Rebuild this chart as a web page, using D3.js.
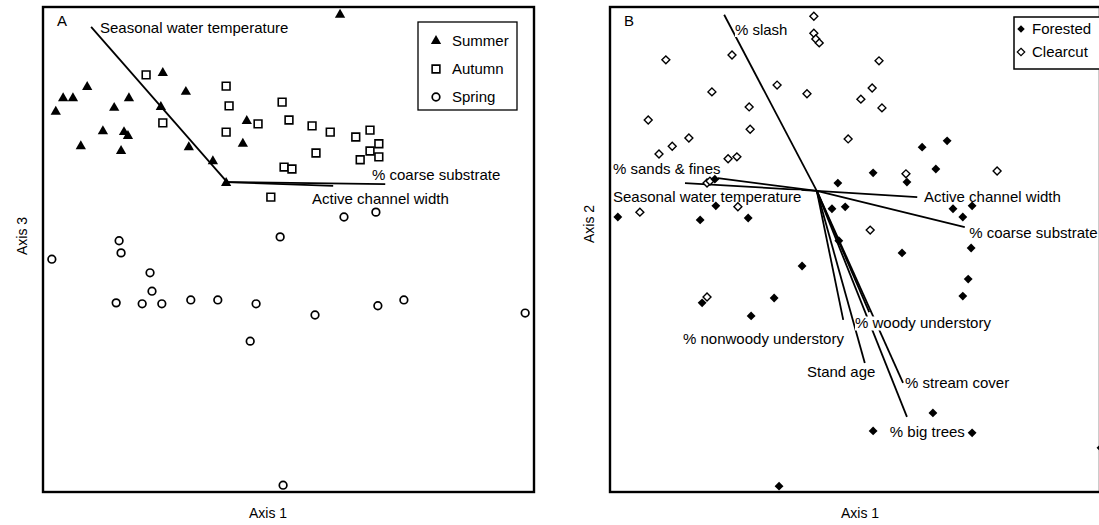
<!DOCTYPE html>
<html>
  <head>
    <meta charset="utf-8">
    <title>Ordination biplots</title>
    <style>
      body { margin: 0; background: #fff; }
      text { font-family: "Liberation Sans", Arial, sans-serif; fill: #000; }
    </style>
  </head>
  <body>
    <div id="vis"></div>
    <script src="https://d3js.org/d3.v7.min.js"></script>
    <script>
    // Panel A: season scores (percent of axis range, x = Axis 1, y = Axis 3)
    let summerA = [[2.6,78.4],[4.1,81.2],[6.1,81.2],[9.0,83.5],[12.2,74.4],[14.5,79.2],[16.5,74.2],[17.3,73.4],
      [7.7,71.3],[15.9,70.3],[17.5,81.2],[24.4,86.4],[24.0,79.4],[29.1,82.5],[29.7,71.1],[34.6,68.2],
      [37.3,63.7],[41.5,76.5],[40.7,71.8],[60.5,98.4]];
    let autumnA = [[21.0,86.0],[24.4,76.1],[37.3,83.7],[37.9,79.6],[37.3,74.2],[43.8,75.9],[48.7,80.4],[50.1,76.7],
      [54.8,75.5],[58.5,74.2],[63.7,73.2],[66.6,74.6],[68.4,71.8],[66.6,70.3],[68.4,69.1],[64.6,68.5],
      [55.6,69.9],[49.1,67.0],[50.7,66.6],[46.4,60.8]];
    let springA = [[1.8,48.0],[15.5,51.8],[15.9,49.3],[21.8,45.2],[22.2,41.4],[14.9,39.0],[20.2,38.8],[24.2,38.8],
      [30.1,39.6],[35.6,39.6],[43.4,38.8],[42.2,31.1],[55.4,36.5],[68.2,38.4],[73.5,39.6],[98.2,36.9],
      [48.9,1.4],[61.3,56.7],[67.8,57.7],[48.3,52.6]];
    let originA = [37.5, 63.9];
    let vectorNamesA = ["Seasonal water temperature", "% coarse substrate", "Active channel width"];
    let vectorEndsA = [[9.8,95.9],[69.7,63.5],[59.1,63.1]];
    let vectorLabelsA = [[11.6,95.7],[67.0,65.4],[54.8,60.4]];
    let seasons = ["Summer", "Autumn", "Spring"];

    // Panel B: stand scores (x = Axis 1, y = Axis 2)
    let forestedB = [[21.4,64.5],[1.6,56.7],[21.6,59.0],[18.4,56.1],[28.2,56.5],[63.7,71.1],[68.8,72.4],[53.7,65.8],
      [66.5,66.6],[60.6,63.9],[46.5,63.7],[45.3,58.4],[48.0,58.8],[70.0,58.4],[72.0,56.7],[73.9,59.0],
      [73.7,50.3],[59.6,49.3],[46.7,51.8],[39.2,46.6],[33.5,40.0],[73.1,43.9],[72.0,40.4],[18.8,39.0],
      [28.8,36.3],[34.5,1.2],[65.9,16.3],[53.7,12.6],[73.9,12.2],[100.2,9.1]];
    let clearcutB = [[41.6,98.1],[41.6,94.6],[42.0,93.4],[42.7,92.6],[11.4,89.1],[24.9,90.1],[20.8,82.5],[34.1,83.9],
      [40.2,82.1],[28.4,79.4],[7.8,76.7],[28.6,74.8],[16.1,73.0],[12.7,71.3],[10.0,69.7],[24.1,68.7],
      [25.9,69.1],[19.8,63.7],[20.4,64.1],[6.1,57.7],[26.1,58.8],[54.9,88.9],[53.5,83.3],[51.2,81.0],
      [55.5,79.2],[48.6,72.8],[60.4,65.6],[79.0,66.2],[53.1,54.0],[19.8,40.2]];
    let originB = [42.2, 62.1];
    let vectorNamesB = ["% slash", "% sands & fines", "Seasonal water temperature", "Active channel width",
      "% coarse substrate", "% nonwoody understory", "% woody understory", "Stand age", "% stream cover", "% big trees"];
    let vectorEndsB = [[23.3,98.4],[22.0,64.7],[15.3,63.7],[62.7,60.8],[72.4,54.6],[47.6,35.5],[52.9,37.1],
      [52.0,26.6],[59.8,22.5],[60.6,15.5]];
    let vectorLabelsB = [[25.5,95.3],[0.6,66.6],[0.6,60.8],[64.1,60.8],[73.3,53.4],[14.9,31.5],[50.0,34.8],
      [40.2,24.7],[60.2,22.5],[57.1,12.4]];
    let sites = ["Forested", "Clearcut"];

    let w = 1099, h = 525;
    let svg = d3.select("#vis").append("svg")
                .attr("width", w)
                .attr("height", h);

    function panel(x0, x1, y0, y1, letter, ytitle, ytitleY, xtitleX) {
      let x = d3.scaleLinear().domain([0, 100]).range([x0, x1]);
      let y = d3.scaleLinear().domain([0, 100]).range([y1, y0]);
      let g = svg.append("g");
      g.append("rect").attr("x", x0).attr("y", y0)
        .attr("width", x1 - x0).attr("height", y1 - y0)
        .style("fill", "none").style("stroke", "#000").style("stroke-width", 2.4);
      g.append("text").attr("x", x0 + 14).attr("y", y0 + 19)
        .style("font-size", "15px").text(letter);
      g.append("text").attr("x", xtitleX).attr("y", 518)
        .attr("text-anchor", "middle").style("font-size", "14px").text("Axis 1");
      g.append("text").attr("transform", "translate(" + (x0 - 16) + "," + ytitleY + ") rotate(-90)")
        .attr("text-anchor", "middle").style("font-size", "14px").text(ytitle);
      return {g: g, x: x, y: y};
    }

    function vectors(p, origin, names, ends, labels, boxed) {
      p.g.selectAll(null).data(ends).enter().append("line")
        .attr("x1", p.x(origin[0])).attr("y1", p.y(origin[1]))
        .attr("x2", d => p.x(d[0])).attr("y2", d => p.y(d[1]))
        .style("stroke", "#000").style("stroke-width", 1.8);
      names.forEach(function(n, i) {
        let t = p.g.append("text").attr("x", p.x(labels[i][0])).attr("y", p.y(labels[i][1]))
          .attr("dy", "0.35em").style("font-size", "15px").text(n);
        if (boxed) {
          let b = t.node().getBBox();
          p.g.insert("rect", function() { return t.node(); })
            .attr("x", b.x).attr("y", b.y + 2).attr("width", b.width).attr("height", b.height - 3)
            .style("fill", "#fff");
        }
      });
    }

    // ---- Panel A ----
    let A = panel(43, 534, 7, 492, "A", "Axis 3", 236, 268);
    vectors(A, originA, vectorNamesA, vectorEndsA, vectorLabelsA, false);

    let tri = d3.symbol().type(d3.symbolTriangle).size(46);
    let sq = d3.symbol().type(d3.symbolSquare).size(60);
    A.g.selectAll(".sum").data(summerA).enter().append("path")
      .attr("d", tri).attr("transform", d => "translate(" + A.x(d[0]) + "," + A.y(d[1]) + ")")
      .style("fill", "#000");
    A.g.selectAll(".aut").data(autumnA).enter().append("path")
      .attr("d", sq).attr("transform", d => "translate(" + A.x(d[0]) + "," + A.y(d[1]) + ")")
      .style("fill", "#fff").style("stroke", "#000").style("stroke-width", 1.6);
    A.g.selectAll(".spr").data(springA).enter().append("circle")
      .attr("cx", d => A.x(d[0])).attr("cy", d => A.y(d[1])).attr("r", 3.8)
      .style("fill", "#fff").style("stroke", "#000").style("stroke-width", 1.7);

    // legend A
    let legA = svg.append("g").attr("transform", "translate(418,22)");
    legA.append("rect").attr("width", 99).attr("height", 88)
      .style("fill", "#fff").style("stroke", "#000").style("stroke-width", 1.3);
    seasons.forEach(function(s, i) {
      let cy = 19 + i * 28;
      if (i == 0) legA.append("path").attr("d", tri).attr("transform", "translate(18," + cy + ")").style("fill", "#000");
      if (i == 1) legA.append("path").attr("d", sq).attr("transform", "translate(18," + cy + ")")
        .style("fill", "#fff").style("stroke", "#000").style("stroke-width", 1.6);
      if (i == 2) legA.append("circle").attr("cx", 18).attr("cy", cy).attr("r", 3.8)
        .style("fill", "#fff").style("stroke", "#000").style("stroke-width", 1.7);
      legA.append("text").attr("x", 34).attr("y", cy).attr("dy", "0.35em")
        .style("font-size", "15px").text(s);
    });

    // ---- Panel B ----
    let B = panel(610, 1100, 7, 492, "B", "Axis 2", 224, 860);
    vectors(B, originB, vectorNamesB, vectorEndsB, vectorLabelsB, true);

    let dia = d3.symbol().type(d3.symbolDiamond2).size(50);
    let diaOpen = d3.symbol().type(d3.symbolDiamond2).size(40);
    B.g.selectAll(".clr").data(clearcutB).enter().append("path")
      .attr("d", diaOpen).attr("transform", d => "translate(" + B.x(d[0]) + "," + B.y(d[1]) + ")")
      .style("fill", "#fff").style("stroke", "#000").style("stroke-width", 1.4);
    B.g.selectAll(".for").data(forestedB).enter().append("path")
      .attr("d", dia).attr("transform", d => "translate(" + B.x(d[0]) + "," + B.y(d[1]) + ")")
      .style("fill", "#000");

    // legend B
    let legB = svg.append("g").attr("transform", "translate(1014,17)");
    legB.append("rect").attr("width", 86).attr("height", 52)
      .style("fill", "#fff").style("stroke", "#000").style("stroke-width", 1.5);
    let diaLeg = d3.symbol().type(d3.symbolDiamond2).size(36);
    sites.forEach(function(s, i) {
      let cy = 12 + i * 23;
      legB.append("path").attr("d", diaLeg).attr("transform", "translate(7," + cy + ")")
        .style("fill", i == 0 ? "#000" : "#fff").style("stroke", i == 0 ? "none" : "#000").style("stroke-width", 1.2);
      legB.append("text").attr("x", 18).attr("y", cy).attr("dy", "0.35em")
        .style("font-size", "15px").text(s);
    });
    </script>
  </body>
</html>
